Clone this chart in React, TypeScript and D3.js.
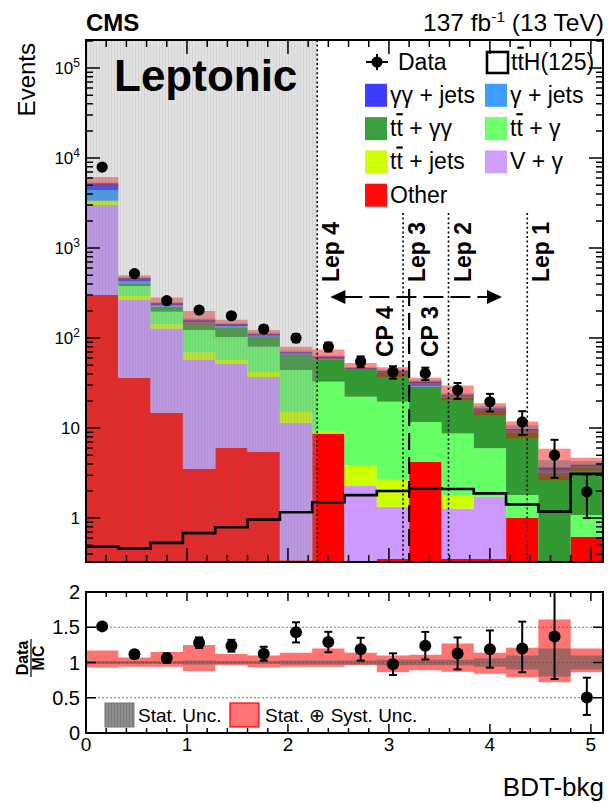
import React from 'react';
import * as d3 from 'd3';

// BDT-bkg binning (16 bins)
const binEdges = [0, 0.32, 0.64, 0.96, 1.28, 1.6, 1.92, 2.24, 2.56, 2.88, 3.2, 3.52, 3.84, 4.16, 4.48, 4.8, 5.12];

// Background yields per bin, stacked bottom to top
const otherYield = [300, 36, 14.8, 3.5, 6.0, 5.5, 0.34, 8.7, 0, 0.35, 4.2, 0.35, 0.35, 1.0, 0, 0.62];
const vGammaYield = [2700, 228, 113, 53.5, 46, 31.5, 11.1, 0, 2.27, 0.99, 0, 0.93, 1.37, 0, 0, 0];
const ttJetsYield = [270, 29, 15, 12, 5, 5, 3.6, 0.5, 1.61, 1.36, 0, 0.52, 0, 0, 0, 0];
const ttGammaYield = [60, 85, 53, 54, 46, 38, 29, 23.5, 18.4, 16.9, 7.5, 6.9, 4.23, 0.8, 0, 0.46];
const ttGammaGammaYield = [40, 22, 27, 20, 26, 23, 21, 24.3, 22, 21.4, 17.1, 13.3, 9.55, 7.2, 3.2, 2.52];
const gammaJetsYield = [1040, 25, 9, 7, 6, 4, 3, 2.5, 1, 1, 2.7, 0.8, 0.5, 0.4, 0.2, 0.15];
const diphotonJetsYield = [840, 40, 13, 10, 8, 5, 2, 2.5, 1, 1, 1.2, 0.6, 0.5, 0.35, 0.25, 0.15];

// Signal expectation
const tthYield = [0.48, 0.46, 0.53, 0.68, 0.79, 0.96, 1.16, 1.5, 1.8, 2.0, 2.14, 2.1, 1.88, 1.42, 1.18, 3.1];

// Observed data
const dataYield = [7940, 520, 260, 205, 177, 126, 100, 80, 55, 42, 40.5, 26.4, 19.6, 11.7, 5.0, 1.96];
const dataErrUp = [90, 23, 16, 12, 12, 11, 10, 9, 7.5, 6.6, 6.4, 5.3, 4.4, 3.7, 2.4, 1.1];
const dataErrDown = [90, 23, 16, 12, 12, 11, 10, 9, 7.5, 6.6, 6.4, 5.3, 4.3, 3.3, 2.2, 0.96];

// Relative uncertainty on the total background
const systUp = [1.17, 1.07, 1.15, 1.25, 1.12, 1.1, 1.14, 1.2, 1.14, 1.1, 1.11, 1.27, 1.14, 1.21, 1.61, 1.2];
const systDown = [0.93, 0.94, 0.94, 0.88, 0.96, 0.93, 0.94, 0.94, 0.96, 0.86, 0.89, 0.87, 0.84, 0.79, 0.72, 0.86];
const statRel = [0.02, 0.02, 0.02, 0.03, 0.02, 0.02, 0.03, 0.03, 0.03, 0.04, 0.04, 0.04, 0.06, 0.1, 0.2, 0.1];

// Category boundaries
const lepBounds = [2.29, 3.14, 3.59, 4.37];
const lepLabels = ['Lep 4', 'Lep 3', 'Lep 2', 'Lep 1'];
const cpBound = 3.2;
const cpLabels = ['CP 4', 'CP 3'];
const arrowRange = [2.42, 4.12];
const blindedMax = 2.29;

const layers = [
  { key: 'other', label: 'Other', color: '#ff0000', values: otherYield },
  { key: 'vg', label: 'V + γ', color: '#cc99ff', values: vGammaYield },
  { key: 'ttj', label: 'tt̄ + jets', color: '#ccff00', values: ttJetsYield },
  { key: 'ttg', label: 'tt̄ + γ', color: '#66ff66', values: ttGammaYield },
  { key: 'ttgg', label: 'tt̄ + γγ', color: '#339933', values: ttGammaGammaYield },
  { key: 'gj', label: 'γ + jets', color: '#3399ff', values: gammaJetsYield },
  { key: 'ggj', label: 'γγ + jets', color: '#3333ff', values: diphotonJetsYield },
];
const legendOrder = ['ggj', 'gj', 'ttgg', 'ttg', 'ttj', 'vg', 'other'];

const xTicksMajor = [0, 1, 2, 3, 4, 5];
const ratioTicks = [0, 0.5, 1, 1.5, 2];
const ratioGrid = [0.5, 1, 1.5];

const FONT = "'Liberation Sans', Arial, Helvetica, sans-serif";

function Label({ text, ...rest }: { text: string; [k: string]: any }) {
  // renders "tt̄" with an overline on the anti-top
  if (text.startsWith('tt̄')) {
    const restText = text.slice(3);
    return (
      <text {...rest}>
        t<tspan style={{ textDecoration: 'overline' }}>t</tspan>
        {restText}
      </text>
    );
  }
  return <text {...rest}>{text}</text>;
}

export default function App() {
  const W = 608, H = 804;
  const mL = 86, mR = 603, mT = 40, mB = 562;
  const rT = 592, rB = 733;
  const x = d3.scaleLinear().domain([0, 5.12]).range([mL, mR]);
  const yMin = 0.325, yMax = 2.05e5;
  const y = d3.scaleLog().domain([yMin, yMax]).range([mB, mT]);
  const yv = (v: number) => y(Math.max(v, yMin));
  const yr = d3.scaleLinear().domain([0, 2]).range([rB, rT]);

  const nBins = dataYield.length;
  const table = d3.range(nBins).map((i) => {
    const row: Record<string, number> = {};
    layers.forEach((l) => (row[l.key] = l.values[i]));
    return row;
  });
  const stacked = d3.stack<Record<string, number>>().keys(layers.map((l) => l.key))(table);
  const totals = stacked[stacked.length - 1].map((d) => d[1]);
  const centers = d3.range(nBins).map((i) => (binEdges[i] + binEdges[i + 1]) / 2);

  type P = { x: number; lo: number; hi: number };
  const stepPts = (lo: number[], hi: number[]): P[] => [
    ...d3.range(nBins).map((i) => ({ x: binEdges[i], lo: lo[i], hi: hi[i] })),
    { x: binEdges[nBins], lo: lo[nBins - 1], hi: hi[nBins - 1] },
  ];
  const areaMain = d3.area<P>().x((d) => x(d.x)).y0((d) => yv(d.lo)).y1((d) => yv(d.hi)).curve(d3.curveStepAfter);
  const areaRatio = d3.area<P>().x((d) => x(d.x)).y0((d) => yr(d.lo)).y1((d) => yr(d.hi)).curve(d3.curveStepAfter);
  const lineMain = d3.line<[number, number]>().x((d) => x(d[0])).y((d) => yv(d[1])).curve(d3.curveStepAfter);

  const systLoAbs = totals.map((t, i) => t * systDown[i]);
  const systHiAbs = totals.map((t, i) => t * systUp[i]);
  const statLoAbs = totals.map((t, i) => t * (1 - statRel[i]));
  const statHiAbs = totals.map((t, i) => t * (1 + statRel[i]));

  const ratio = dataYield.map((d, i) => d / totals[i]);
  const ratioUp = dataErrUp.map((e, i) => e / totals[i]);
  const ratioDown = dataErrDown.map((e, i) => e / totals[i]);

  const tthPts: [number, number][] = [
    ...d3.range(nBins).map((i) => [binEdges[i], tthYield[i]] as [number, number]),
    [binEdges[nBins], tthYield[nBins - 1]],
  ];

  // log-axis ticks
  const majorY: number[] = [];
  const minorY: number[] = [];
  for (let k = -1; k <= 5; k++) {
    const p = Math.pow(10, k);
    if (p >= yMin && p <= yMax) majorY.push(p);
    for (let m = 2; m <= 9; m++) {
      const v = m * p;
      if (v >= yMin && v <= yMax) minorY.push(v);
    }
  }
  const minorX = d3.range(0, 5.13, 0.2).filter((v) => Math.abs(v - Math.round(v)) > 1e-6);

  const ticksPath = (top: number, bottom: number, majLen: number, minLen: number) => {
    let s = '';
    xTicksMajor.forEach((v) => {
      const px = x(v);
      s += `M${px},${bottom}V${bottom - majLen}M${px},${top}V${top + majLen}`;
    });
    minorX.forEach((v) => {
      const px = x(v);
      s += `M${px},${bottom}V${bottom - minLen}M${px},${top}V${top + minLen}`;
    });
    return s;
  };

  let yTickPath = '';
  majorY.forEach((v) => {
    const py = y(v);
    yTickPath += `M${mL},${py}H${mL + 14}M${mR},${py}H${mR - 14}`;
  });
  minorY.forEach((v) => {
    const py = y(v);
    yTickPath += `M${mL},${py}H${mL + 7}M${mR},${py}H${mR - 7}`;
  });
  let ryTickPath = '';
  ratioTicks.forEach((v) => {
    const py = yr(v);
    ryTickPath += `M${mL},${py}H${mL + 10}M${mR},${py}H${mR - 10}`;
  });

  const legendX = [365, 485];
  const legendRowY = (r: number) => 62 + r * 33.3;
  const arrowY = 297;
  const catTop = 213;

  return (
    <svg
      width={W}
      height={H}
      viewBox={`0 0 ${W} ${H}`}
      style={{ position: 'absolute', left: 0, top: 0, display: 'block', background: '#fff' }}
      fontFamily={FONT}
    >
      <defs>
        <pattern id="blind" width="3" height="10" patternUnits="userSpaceOnUse">
          <rect width="3" height="10" fill="rgb(150,150,150)" fillOpacity={0.28} />
          <rect width="1" height="10" fill="rgb(110,110,110)" fillOpacity={0.12} />
        </pattern>
        <pattern id="hatchGray" width="3" height="10" patternUnits="userSpaceOnUse">
          <rect width="3" height="10" fill="#8f8f8f" />
          <rect width="1" height="10" fill="#7a7a7a" />
        </pattern>
        <clipPath id="clipMain">
          <rect x={mL} y={mT} width={mR - mL} height={mB - mT} />
        </clipPath>
        <clipPath id="clipRatio">
          <rect x={mL} y={rT} width={mR - mL} height={rB - rT} />
        </clipPath>
      </defs>

      <rect x={0} y={0} width={W} height={H} fill="#fff" />

      {/* ---------- main panel ---------- */}
      <g clipPath="url(#clipMain)">
        {stacked.map((s, li) => (
          <path
            key={layers[li].key}
            d={areaMain(stepPts(s.map((d) => d[0]), s.map((d) => d[1])))!}
            fill={layers[li].color}
          />
        ))}
        <path d={areaMain(stepPts(systLoAbs, systHiAbs))!} fill="#ff0000" fillOpacity={0.45} />
        <path d={areaMain(stepPts(statLoAbs, statHiAbs))!} fill="#666" fillOpacity={0.45} />
        <rect x={x(0)} y={mT} width={x(blindedMax) - x(0)} height={mB - mT} fill="url(#blind)" />
        <path d={lineMain(tthPts)!} fill="none" stroke="#000" strokeWidth={2.6} />
      </g>

      {/* category boundaries */}
      {lepBounds.map((b, i) => (
        <g key={lepLabels[i]}>
          <line
            x1={x(b)}
            x2={x(b)}
            y1={i === 0 ? mT : catTop}
            y2={mB}
            stroke="#000"
            strokeWidth={1.6}
            strokeDasharray="2,2.6"
          />
          <text transform={`translate(${x(b) + 22},282) rotate(-90)`} fontSize={23} fontWeight="bold">
            {lepLabels[i]}
          </text>
        </g>
      ))}
      <line x1={x(cpBound)} x2={x(cpBound)} y1={arrowY - 8} y2={mB} stroke="#000" strokeWidth={2.2} strokeDasharray="17,7" />
      <line x1={x(arrowRange[0]) + 12} x2={x(arrowRange[1]) - 12} y1={arrowY} y2={arrowY} stroke="#000" strokeWidth={2} strokeDasharray="20,7" />
      <path
        d={`M${x(arrowRange[0])},${arrowY}L${x(arrowRange[0]) + 15},${arrowY - 7}L${x(arrowRange[0]) + 15},${arrowY + 7}Z`}
        fill="#000"
      />
      <path
        d={`M${x(arrowRange[1])},${arrowY}L${x(arrowRange[1]) - 15},${arrowY - 7}L${x(arrowRange[1]) - 15},${arrowY + 7}Z`}
        fill="#000"
      />
      <text transform={`translate(${x(cpBound) - 16},357) rotate(-90)`} fontSize={23} fontWeight="bold">
        {cpLabels[0]}
      </text>
      <text transform={`translate(${x(cpBound) + 29},357) rotate(-90)`} fontSize={23} fontWeight="bold">
        {cpLabels[1]}
      </text>

      {/* data points */}
      {centers.map((c, i) => {
        const cx = x(c);
        const y1 = yv(dataYield[i] + dataErrUp[i]);
        const y2 = yv(dataYield[i] - dataErrDown[i]);
        return (
          <g key={`d${i}`}>
            <line x1={cx} x2={cx} y1={y1} y2={y2} stroke="#000" strokeWidth={2} />
            <line x1={cx - 4} x2={cx + 4} y1={y1} y2={y1} stroke="#000" strokeWidth={2} />
            <line x1={cx - 4} x2={cx + 4} y1={y2} y2={y2} stroke="#000" strokeWidth={2} />
            <circle cx={cx} cy={yv(dataYield[i])} r={5.6} fill="#000" />
          </g>
        );
      })}

      {/* legend */}
      <g fontSize={23}>
        <line x1={366} x2={388} y1={legendRowY(0)} y2={legendRowY(0)} stroke="#000" strokeWidth={2} />
        <line x1={377} x2={377} y1={legendRowY(0) - 8} y2={legendRowY(0) + 8} stroke="#000" strokeWidth={2} />
        <circle cx={377} cy={legendRowY(0)} r={5.6} fill="#000" />
        <text x={398} y={legendRowY(0) + 7.5}>Data</text>
        <rect x={487} y={legendRowY(0) - 10} width={21} height={21} fill="#fff" stroke="#000" strokeWidth={2.6} />
        <text x={511} y={legendRowY(0) + 7.5}>
          t<tspan style={{ textDecoration: 'overline' }}>t</tspan>H(125)
        </text>
        {legendOrder.map((k, idx) => {
          const l = layers.find((q) => q.key === k)!;
          const col = idx % 2;
          const row = 1 + Math.floor(idx / 2);
          const cy = legendRowY(row);
          return (
            <g key={k}>
              <rect x={legendX[col]} y={cy - 11.5} width={22} height={23} fill={l.color} fillOpacity={0.95} />
              <Label text={l.label} x={legendX[col] + 25} y={cy + 7.5} />
            </g>
          );
        })}
      </g>

      {/* header and labels */}
      <text x={86} y={31} fontSize={24} fontWeight="bold">CMS</text>
      <text x={604} y={31} fontSize={24.5} textAnchor="end">
        137 fb<tspan dy={-9} fontSize={15.5}>-1</tspan>
        <tspan dy={9}> (13 TeV)</tspan>
      </text>
      <text x={114} y={91} fontSize={44} fontWeight="bold">Leptonic</text>
      <text transform="translate(35,43) rotate(-90)" fontSize={24} textAnchor="end">Events</text>

      {/* main frame and ticks */}
      <path d={yTickPath + ticksPath(mT, mB, 14, 7)} stroke="#000" strokeWidth={1.5} fill="none" />
      <rect x={mL} y={mT} width={mR - mL} height={mB - mT} fill="none" stroke="#000" strokeWidth={2} />
      {majorY.map((v) => {
        const k = Math.round(Math.log10(v));
        return (
          <text key={`yl${k}`} x={80} y={y(v) + 6} fontSize={17} textAnchor="end">
            {k === 0 ? '1' : '10'}
            {k > 1 ? <tspan dy={-7} fontSize={12}>{k}</tspan> : null}
          </text>
        );
      })}

      {/* ---------- ratio panel ---------- */}
      {ratioGrid.map((g) => (
        <line key={`g${g}`} x1={mL} x2={mR} y1={yr(g)} y2={yr(g)} stroke="#777" strokeWidth={1.2} strokeDasharray="2,2" />
      ))}
      <g clipPath="url(#clipRatio)">
        <path d={areaRatio(stepPts(systDown, systUp))!} fill="#ff0000" fillOpacity={0.55} />
        <path
          d={areaRatio(stepPts(statRel.map((s) => 1 - s), statRel.map((s) => 1 + s)))!}
          fill="#555"
          fillOpacity={0.55}
        />
        {centers.map((c, i) => {
          const cx = x(c);
          const y1 = yr(ratio[i] + ratioUp[i]);
          const y2 = yr(ratio[i] - ratioDown[i]);
          return (
            <g key={`r${i}`}>
              <line x1={cx} x2={cx} y1={y1} y2={y2} stroke="#000" strokeWidth={2} />
              <line x1={cx - 4} x2={cx + 4} y1={y1} y2={y1} stroke="#000" strokeWidth={2} />
              <line x1={cx - 4} x2={cx + 4} y1={y2} y2={y2} stroke="#000" strokeWidth={2} />
              <circle cx={cx} cy={yr(ratio[i])} r={6} fill="#000" />
            </g>
          );
        })}
      </g>
      {/* ratio legend */}
      <rect x={105} y={703} width={29} height={24} fill="url(#hatchGray)" stroke="#777" strokeWidth={1} />
      <text x={138} y={722} fontSize={19}>Stat. Unc.</text>
      <rect x={230} y={703} width={29} height={24} fill="#ff0000" fillOpacity={0.55} stroke="#ff0000" strokeWidth={1.2} />
      <text x={265} y={722} fontSize={19}>Stat. ⊕ Syst. Unc.</text>

      <path d={ryTickPath + ticksPath(rT, rB, 9, 5)} stroke="#000" strokeWidth={1.5} fill="none" />
      <rect x={mL} y={rT} width={mR - mL} height={rB - rT} fill="none" stroke="#000" strokeWidth={2} />
      {ratioTicks.map((v) => (
        <text key={`ry${v}`} x={80} y={yr(v) + 7} fontSize={20} textAnchor="end">{v}</text>
      ))}
      {xTicksMajor.map((v) => (
        <text key={`xl${v}`} x={x(v)} y={751} fontSize={19} textAnchor="middle">{v}</text>
      ))}
      <g transform="translate(31,658) rotate(-90)" fontSize={16} fontWeight="bold" textAnchor="middle">
        <text x={0} y={-3}>Data</text>
        <line x1={-19} x2={19} y1={0} y2={0} stroke="#000" strokeWidth={1.2} />
        <text x={0} y={13}>MC</text>
      </g>
      <text x={604} y={796} fontSize={26} textAnchor="end">BDT-bkg</text>
    </svg>
  );
}
